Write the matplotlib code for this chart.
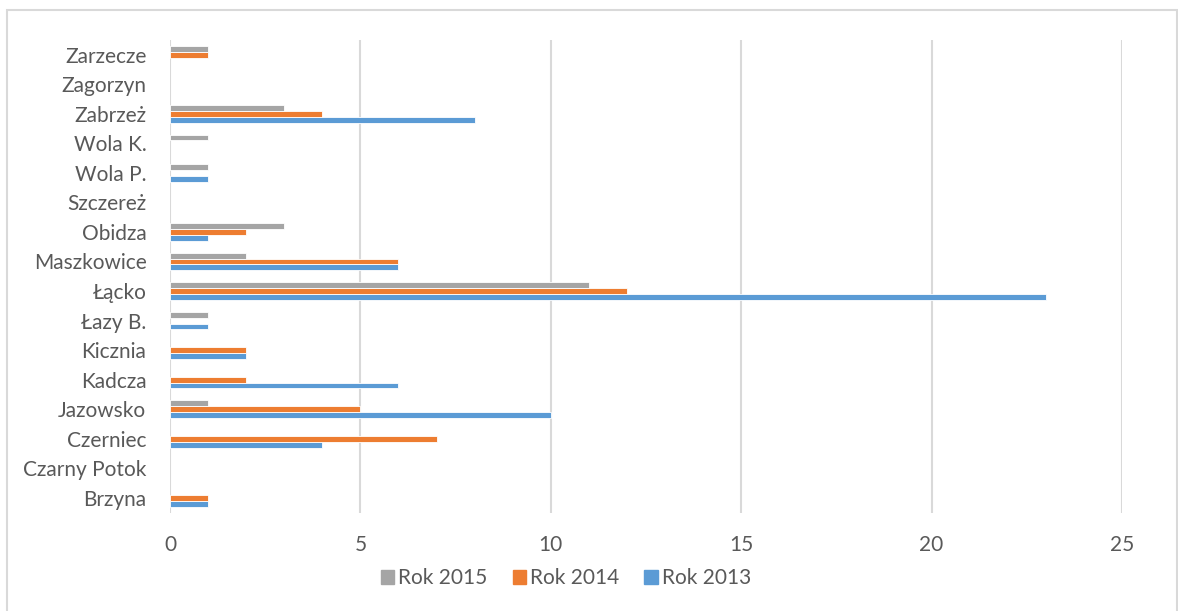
import matplotlib
matplotlib.use("Agg")
import matplotlib.pyplot as plt
import numpy as np
from matplotlib.patches import Patch, Rectangle

plt.rcParams["font.family"] = ["Lato", "DejaVu Sans"]

# categories bottom -> top, as drawn
places = ["Brzyna", "Czarny Potok", "Czerniec", "Jazowsko", "Kadcza", "Kicznia",
          "Łazy B.", "Łącko", "Maszkowice", "Obidza", "Szczereż", "Wola P.",
          "Wola K.", "Zabrzeż", "Zagorzyn", "Zarzecze"]
rok_2013 = [1, 0, 4, 10, 6, 2, 1, 23, 6, 1, 0, 1, 0, 8, 0, 0]
rok_2014 = [1, 0, 7, 5, 2, 2, 0, 12, 6, 2, 0, 0, 0, 4, 0, 1]
rok_2015 = [0, 0, 0, 1, 0, 0, 1, 11, 2, 3, 0, 1, 1, 3, 0, 1]
x_ticks = [0, 5, 10, 15, 20, 25]

C_GRAY, C_ORANGE, C_BLUE = "#A5A5A5", "#ED7D31", "#5B9BD5"
TXT = "#595959"
GRID = "#D9D9D9"

W, H = 1178, 611
fig = plt.figure(figsize=(W / 100, H / 100), dpi=100)
ax = fig.add_axes([170 / W, 1 - 512.5 / H, 952 / W, 472.5 / H])

y = np.arange(len(places))
bh = 0.2


def edge_w(vals):
    # no white outline on empty bars, so the zero line stays unbroken
    return [0.6 if v else 0 for v in vals]


ax.barh(y - bh, rok_2013, height=bh, color=C_BLUE, edgecolor="white",
        linewidth=edge_w(rok_2013), zorder=3)
ax.barh(y, rok_2014, height=bh, color=C_ORANGE, edgecolor="white",
        linewidth=edge_w(rok_2014), zorder=3)
ax.barh(y + bh, rok_2015, height=bh, color=C_GRAY, edgecolor="white",
        linewidth=edge_w(rok_2015), zorder=3)

ax.set_xlim(0, 25)
ax.set_ylim(-0.5, len(places) - 0.5)
ax.set_xticks(x_ticks)
ax.set_yticks(y)
ax.set_yticklabels(places)
ax.tick_params(length=0, colors=TXT, labelsize=15)
ax.tick_params(axis="y", pad=17)
ax.tick_params(axis="x", pad=16)
ax.grid(axis="x", color=GRID, linewidth=1.5, zorder=0)
for s in ax.spines.values():
    s.set_visible(False)

handles = [Patch(color=C_GRAY, label="Rok 2015"),
           Patch(color=C_ORANGE, label="Rok 2014"),
           Patch(color=C_BLUE, label="Rok 2013")]
leg = fig.legend(handles=handles, loc="center", bbox_to_anchor=(566 / W, 1 - 578 / H),
                 ncol=3, frameon=False, fontsize=15, handlelength=0.65,
                 handleheight=0.65, handletextpad=0.2, columnspacing=1.2)
for t in leg.get_texts():
    t.set_color(TXT)

# chart frame
fig.patches.append(Rectangle((7 / W, -0.02), (W - 8) / W, 1 - 9.5 / H + 0.02,
                             transform=fig.transFigure, fill=False,
                             edgecolor=GRID, linewidth=1.5))

fig.savefig("out.png", dpi=100)
